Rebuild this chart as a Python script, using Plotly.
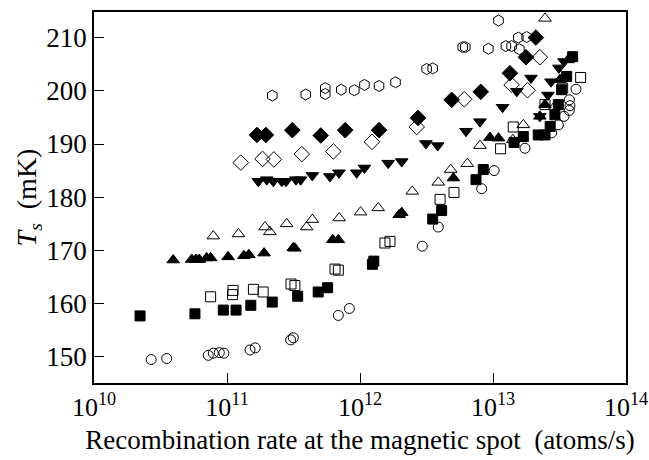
import plotly.graph_objects as go

# ---- data ----
hex_open_x = [2.19e11, 3.91e11, 5.48e11, 5.48e11, 7.23e11, 9.06e11, 1.08e12, 1.39e12, 1.85e12, 3.17e12,
              3.52e12, 5.92e12, 6.19e12, 9.23e12, 1.10e13, 1.25e13, 1.38e13, 1.55e13, 1.79e13, 1.58e13]
hex_open_y = [199.1, 199.3, 200.5, 199.4, 200.2, 200.1, 201.1, 200.9, 201.6, 204.1,
              204.2, 208.2, 208.2, 207.9, 213.2, 208.4, 208.4, 210.0, 210.1, 207.8]

dia_fill_x = [1.68e11, 1.96e11, 3.10e11, 5.07e11, 7.74e11, 1.39e12, 2.73e12, 4.89e12, 8.09e12, 1.34e13, 1.77e13, 2.10e13]
dia_fill_y = [191.7, 191.7, 192.6, 191.6, 192.6, 192.6, 194.9, 198.3, 199.8, 203.3, 206.3, 210.0]

dia_open_x = [1.27e11, 1.85e11, 2.25e11, 3.65e11, 6.30e11, 1.23e12, 2.67e12, 6.08e12, 1.38e13, 1.82e13, 2.25e13]
dia_open_y = [186.5, 187.2, 187.1, 188.1, 188.6, 190.4, 193.2, 198.4, 201.1, 200.1, 206.3]

tdn_fill_x = [1.72e11, 1.99e11, 2.23e11, 2.58e11, 2.78e11, 3.30e11, 3.58e11, 4.38e11, 5.94e11, 6.95e11,
              9.44e11, 1.08e12, 1.63e12, 2.06e12, 3.13e12, 3.84e12, 6.27e12, 7.98e12, 1.18e13, 1.51e13,
              1.93e13, 2.25e13, 2.59e13, 2.73e13, 3.13e13, 3.42e13]
tdn_fill_y = [183.0, 183.3, 183.0, 183.0, 183.0, 183.3, 183.3, 184.1, 183.9, 184.6,
              184.6, 185.5, 186.4, 186.7, 190.1, 189.7, 192.4, 194.2, 196.9, 199.9,
              202.4, 195.2, 199.2, 201.7, 204.3, 205.5]

tup_open_x = [7.89e10, 1.22e11, 1.93e11, 2.10e11, 2.81e11, 3.97e11, 4.38e11, 6.98e11, 1.01e12, 1.37e12,
              2.47e12, 3.88e12, 4.81e12, 6.41e12, 7.98e12, 1.41e13, 1.69e13, 2.46e13, 2.90e13]
tup_open_y = [172.7, 173.1, 174.4, 173.5, 175.0, 174.4, 175.8, 176.1, 177.2, 178.0,
              181.1, 182.8, 185.2, 186.3, 189.7, 190.8, 193.6, 213.6, 197.0]

tup_fill_x = [3.94e10, 5.43e10, 5.85e10, 6.19e10, 7.03e10, 7.53e10, 1.02e11, 1.34e11, 1.46e11, 1.90e11,
              3.15e11, 3.24e11, 6.24e11, 6.87e11, 1.97e12, 2.06e12, 5.04e12, 9.48e12, 1.10e13, 2.25e13,
              2.46e13, 3.19e13, 3.66e13]
tup_fill_y = [168.2, 168.3, 168.3, 168.3, 168.6, 168.6, 168.8, 169.0, 169.2, 169.5,
              170.5, 170.4, 172.0, 172.0, 176.7, 177.1, 183.6, 191.2, 191.1, 195.2,
              197.4, 202.1, 205.8]

sq_open_x = [7.53e10, 1.11e11, 1.10e11, 1.58e11, 1.87e11, 3.03e11, 3.24e11, 6.49e11, 6.87e11, 1.54e12,
             1.68e12, 4.00e12, 5.09e12, 1.14e13, 1.42e13, 2.46e13, 3.34e13, 4.56e13]
sq_open_y = [161.3, 162.5, 161.7, 162.7, 162.2, 163.7, 163.4, 166.5, 166.3, 171.4,
             171.7, 179.6, 180.9, 189.1, 193.2, 197.4, 200.5, 202.5]

sq_fill_x = [2.22e10, 5.74e10, 9.38e10, 1.17e11, 1.51e11, 2.19e11, 3.40e11, 4.85e11, 5.71e11, 1.24e12,
             1.27e12, 3.52e12, 4.11e12, 7.45e12, 8.45e12, 1.44e13, 1.69e13, 2.19e13, 2.46e13, 2.69e13,
             2.92e13, 3.10e13, 3.28e13, 3.58e13, 3.97e13]
sq_fill_y = [157.7, 158.1, 158.8, 158.8, 159.7, 160.3, 161.4, 162.2, 163.0, 167.4,
             168.0, 175.9, 177.5, 183.3, 185.2, 190.3, 191.4, 191.7, 191.7, 193.3,
             195.5, 197.4, 200.2, 202.7, 206.4]

circ_open_x = [2.69e10, 3.52e10, 7.23e10, 7.89e10, 8.75e10, 9.48e10, 1.49e11, 1.63e11, 3.01e11, 3.15e11,
               6.87e11, 8.32e11, 2.94e12, 3.88e12, 8.22e12, 1.02e13, 1.74e13, 2.76e13, 3.10e13, 3.42e13,
               3.75e13, 3.79e13, 3.75e13, 4.21e13]
circ_open_y = [149.5, 149.7, 150.3, 150.7, 150.8, 150.7, 151.3, 151.7, 153.2, 153.6,
               157.8, 159.1, 170.8, 174.4, 181.6, 185.0, 189.2, 192.1, 193.6, 195.2,
               196.3, 197.2, 198.3, 200.3]

x_tick_vals = [1e10, 1e11, 1e12, 1e13, 1e14]
x_tick_text = ["10<sup>10</sup>", "10<sup>11</sup>", "10<sup>12</sup>", "10<sup>13</sup>", "10<sup>14</sup>"]
y_tick_vals = [150, 160, 170, 180, 190, 200, 210]

series = [
    (circ_open_x, circ_open_y, "circle-open", 10),
    (sq_open_x, sq_open_y, "square-open", 10),
    (sq_fill_x, sq_fill_y, "square", 10),
    (tup_open_x, tup_open_y, "triangle-up-open", 11),
    (tup_fill_x, tup_fill_y, "triangle-up", 11),
    (tdn_fill_x, tdn_fill_y, "triangle-down", 11),
    (dia_open_x, dia_open_y, "diamond-open", 12),
    (dia_fill_x, dia_fill_y, "diamond", 12),
    (hex_open_x, hex_open_y, "hexagon-open", 11),
]

fig = go.Figure()
for xs, ys, sym, sz in series:
    fig.add_trace(go.Scatter(
        x=xs, y=ys, mode="markers",
        marker=dict(symbol=sym, size=sz, color="black", line=dict(color="black", width=1)),
        showlegend=False,
    ))

font = "Liberation Serif"
fig.update_layout(
    width=649, height=460,
    margin=dict(l=94, r=23, t=12, b=77),
    paper_bgcolor="white", plot_bgcolor="white",
    font=dict(family=font, size=26, color="black"),
)
fig.update_xaxes(
    type="log", range=[10, 14], automargin=False,
    tickvals=x_tick_vals, ticktext=x_tick_text,
    ticks="inside", ticklen=10, tickwidth=1, tickcolor="black",
    showline=True, linecolor="black", linewidth=1.5, mirror=True,
    showgrid=False, zeroline=False,
    tickfont=dict(family=font, size=26),
    title=dict(text="Recombination rate at the magnetic spot \u00a0(atoms/s)",
               font=dict(family=font, size=27), standoff=9),
)
fig.update_yaxes(
    range=[145.1, 214.8], automargin=False,
    tickvals=y_tick_vals,
    ticks="inside", ticklen=10, tickwidth=1, tickcolor="black",
    showline=True, linecolor="black", linewidth=1.5, mirror=True,
    showgrid=False, zeroline=False,
    tickfont=dict(family=font, size=27),
    title=dict(text="<i>T<sub>s</sub></i> \u00a0(mK)", font=dict(family=font, size=28), standoff=0),
)

fig.write_html("out.html", config={"displayModeBar": False},
               post_script="document.body.style.margin='0';document.body.style.overflow='hidden';")
